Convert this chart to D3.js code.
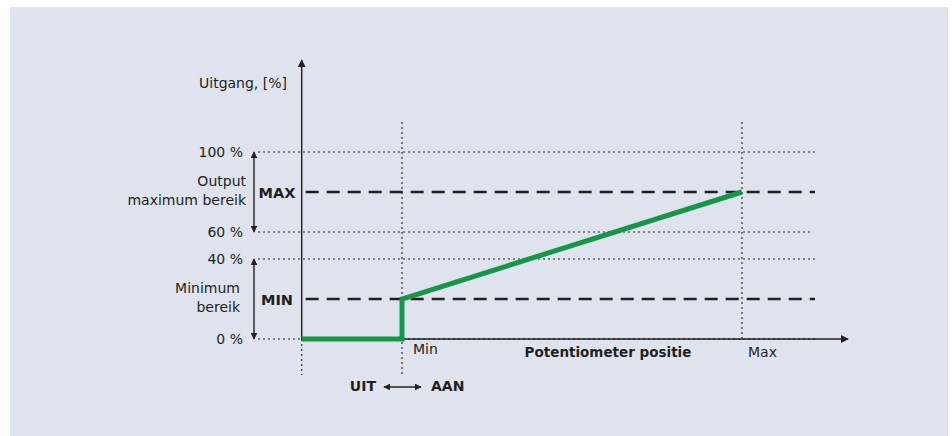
<!DOCTYPE html>
<html>
<head>
<meta charset="utf-8">
<script src="https://cdn.jsdelivr.net/npm/d3@7"></script>
<style>
  html, body { margin: 0; padding: 0; background: #ffffff; }
  svg { display: block; }
  text { font-family: "DejaVu Sans", sans-serif; fill: #231f20; }
</style>
</head>
<body>
<svg id="chart" width="952" height="436"></svg>
<script>
// ---- data ----
const levelValues = [0, 40, 60, 100];             // output levels (%)
const levelLabels = ["0 %", "40 %", "60 %", "100 %"];
const rangeLevels = [20, 80];                      // MIN / MAX output settings (%)
const rangeLabels = ["MIN", "MAX"];
const potMarks = [0, 100];                         // potentiometer Min / Max (%)
const potLabels = ["Min", "Max"];
const curvePot = [-29.5, 0, 0, 100];               // potentiometer position
const curveOut = [0, 0, 20, 80];                   // output (%)
const bands = [[60, 100], [0, 40]];
const bandLabels = [["Output", "maximum bereik"], ["Minimum", "bereik"]];

// ---- layout ----
const svg = d3.select("#chart");
const ink = "#231f20";
svg.append("rect").attr("x", 10).attr("y", 7).attr("width", 938).attr("height", 429).attr("fill", "#dfe3ed");

// schematic (piecewise) scales
const y = d3.scaleLinear().domain(levelValues).range([339, 259, 232, 152]);
const x = d3.scaleLinear().domain([0, 100]).range([402, 742]);
const x0 = x(curvePot[0]);
const xEnd = 815;

const defs = svg.append("defs");
defs.append("marker").attr("id", "ah").attr("viewBox", "0 0 10 10").attr("refX", 9).attr("refY", 5)
  .attr("markerWidth", 8).attr("markerHeight", 8).attr("markerUnits", "userSpaceOnUse").attr("orient", "auto-start-reverse")
  .append("path").attr("d", "M0,0 L10,5 L0,10 z").attr("fill", ink);
defs.append("marker").attr("id", "ahs").attr("viewBox", "0 0 10 10").attr("refX", 9).attr("refY", 5)
  .attr("markerWidth", 7).attr("markerHeight", 7).attr("markerUnits", "userSpaceOnUse").attr("orient", "auto-start-reverse")
  .append("path").attr("d", "M0,0 L10,5 L0,10 z").attr("fill", ink);

// horizontal dotted level lines
svg.selectAll(".lvl").data(levelValues).enter().append("line")
  .attr("x1", 258).attr("x2", d => d === 60 ? xEnd - 4 : xEnd)
  .attr("y1", d => y(d)).attr("y2", d => y(d))
  .attr("stroke", ink).attr("stroke-width", 1.1).attr("stroke-dasharray", "2,3");

// vertical dotted lines at Min/Max
svg.selectAll(".vm").data(potMarks).enter().append("line")
  .attr("x1", d => x(d)).attr("x2", d => x(d))
  .attr("y1", 122).attr("y2", d => d === 0 ? 375 : y(0))
  .attr("stroke", ink).attr("stroke-width", 1.1).attr("stroke-dasharray", "2,3");
// y-axis dotted extension
svg.append("line").attr("x1", x0).attr("x2", x0).attr("y1", y(0)).attr("y2", 375)
  .attr("stroke", ink).attr("stroke-width", 1.1).attr("stroke-dasharray", "2,3");

// dashed MIN / MAX lines
svg.selectAll(".rng").data(rangeLevels).enter().append("line")
  .attr("x1", x0 + 4).attr("x2", xEnd)
  .attr("y1", d => y(d)).attr("y2", d => y(d))
  .attr("stroke", ink).attr("stroke-width", 2.5).attr("stroke-dasharray", "13,8");

// axes
svg.append("line").attr("x1", x0).attr("x2", x0).attr("y1", y(0)).attr("y2", 60)
  .attr("stroke", ink).attr("stroke-width", 1.4).attr("marker-end", "url(#ah)");
svg.append("line").attr("x1", x0).attr("x2", 848).attr("y1", y(0)).attr("y2", y(0))
  .attr("stroke", ink).attr("stroke-width", 1.4).attr("marker-end", "url(#ah)");

// band double arrows
svg.selectAll(".band").data(bands).enter().append("line")
  .attr("x1", 254).attr("x2", 254)
  .attr("y1", d => y(d[0])).attr("y2", d => y(d[1]))
  .attr("stroke", ink).attr("stroke-width", 1.4)
  .attr("marker-start", "url(#ahs)").attr("marker-end", "url(#ahs)");

// green curve
const pts = curvePot.map((p, i) => [x(p), y(curveOut[i])]);
svg.append("path").attr("d", d3.line()(pts)).attr("fill", "none")
  .attr("stroke", "#17964a").attr("stroke-width", 5).attr("stroke-linejoin", "miter");

// ---- texts ----
svg.append("text").attr("x", 287).attr("y", 88).attr("text-anchor", "end")
  .attr("font-size", 14).text("Uitgang, [%]");

svg.selectAll(".ll").data(levelValues).enter().append("text")
  .attr("x", 243).attr("y", d => y(d) + 5).attr("text-anchor", "end")
  .attr("font-size", 14).text((d, i) => levelLabels[i]);

const bandAnchors = [[{dx: 246, y: 186}, {dx: 246, y: 205}], [{dx: 240, y: 293}, {dx: 240, y: 312}]];
bandLabels.forEach((lines, bi) => {
  lines.forEach((t, li) => {
    svg.append("text").attr("x", bandAnchors[bi][li].dx).attr("y", bandAnchors[bi][li].y)
      .attr("text-anchor", "end").attr("font-size", 14).text(t);
  });
});

svg.selectAll(".rl").data(rangeLevels).enter().append("text")
  .attr("x", 277).attr("y", d => y(d) + 5.5).attr("text-anchor", "middle")
  .attr("font-size", 14.5).attr("font-weight", "bold").text((d, i) => rangeLabels[i]);

svg.selectAll(".pl").data(potMarks).enter().append("text")
  .attr("x", d => x(d) + (d === 0 ? 11 : 6)).attr("y", d => d === 0 ? 354 : 357)
  .attr("font-size", 14).text((d, i) => potLabels[i]);

svg.append("text").attr("x", 608).attr("y", 357).attr("text-anchor", "middle")
  .attr("font-size", 13.5).attr("font-weight", "bold").text("Potentiometer positie");

svg.append("text").attr("x", 376).attr("y", 391).attr("text-anchor", "end")
  .attr("font-size", 14).attr("font-weight", "bold").text("UIT");
svg.append("text").attr("x", 431).attr("y", 391)
  .attr("font-size", 14).attr("font-weight", "bold").text("AAN");
svg.append("line").attr("x1", 384).attr("x2", 421).attr("y1", 387).attr("y2", 387)
  .attr("stroke", ink).attr("stroke-width", 1.3)
  .attr("marker-start", "url(#ahs)").attr("marker-end", "url(#ahs)");
</script>
</body>
</html>
